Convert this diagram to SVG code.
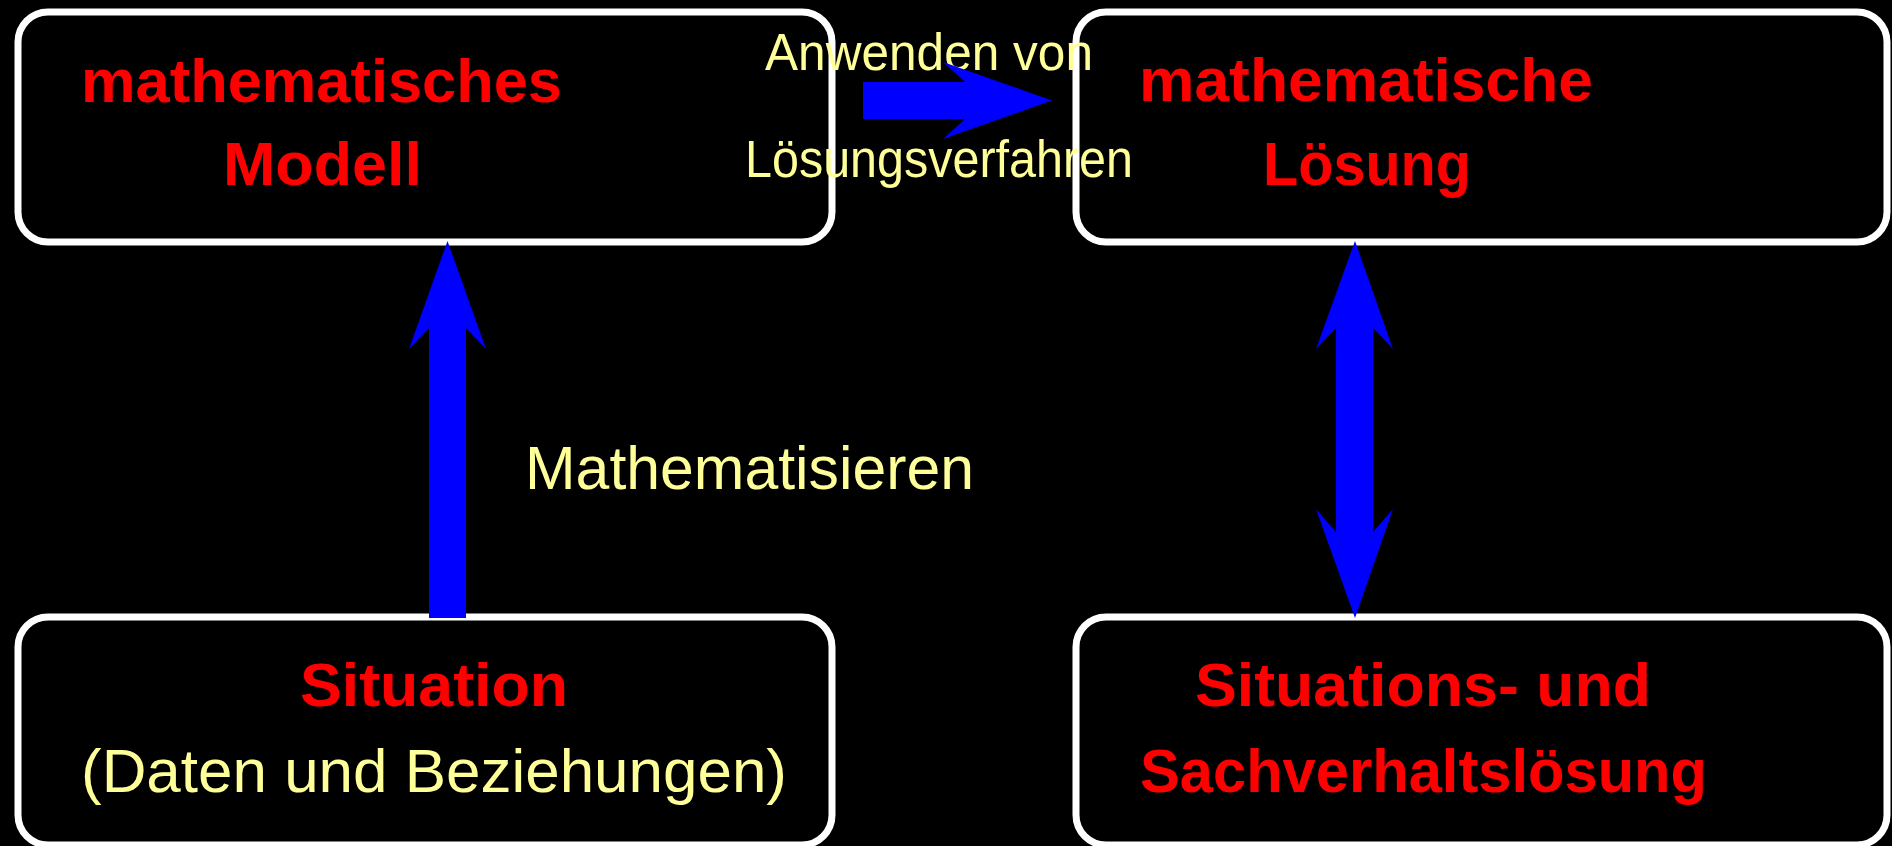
<svg xmlns="http://www.w3.org/2000/svg" width="1892" height="846" viewBox="0 0 1892 846">
<style>
.box{fill:#000;stroke:#fff;stroke-width:7}
.t{font-family:"Liberation Sans",Arial,sans-serif;font-weight:bold;font-size:61px;fill:#ff0000}
.y{font-family:"Liberation Sans",Arial,sans-serif;font-size:62px;fill:#ffff99}
.arr{fill:#0000ff;stroke:none}
</style>
<rect x="0" y="0" width="1892" height="846" fill="#000"/>
<g id="node-modell">
<rect class="box" x="18" y="12" width="814" height="230" rx="30"/>
<text class="t" x="81" y="102" textLength="481" lengthAdjust="spacingAndGlyphs">mathematisches</text>
<text class="t" x="223" y="185" textLength="199" lengthAdjust="spacingAndGlyphs">Modell</text>
</g>
<g id="node-loesung">
<rect class="box" x="1076" y="12" width="811" height="230" rx="30"/>
<text class="t" x="1139" y="101" textLength="454" lengthAdjust="spacingAndGlyphs">mathematische</text>
<text class="t" x="1263" y="185" textLength="208" lengthAdjust="spacingAndGlyphs">Lösung</text>
</g>
<g id="node-situation">
<rect class="box" x="18" y="617" width="814" height="228" rx="30"/>
<text class="t" x="300" y="706" textLength="268" lengthAdjust="spacingAndGlyphs">Situation</text>
<text class="y" x="81" y="792" textLength="706" lengthAdjust="spacingAndGlyphs">(Daten und Beziehungen)</text>
</g>
<g id="node-sachverhalt">
<rect class="box" x="1076" y="617" width="811" height="228" rx="30"/>
<text class="t" x="1195" y="706" textLength="456" lengthAdjust="spacingAndGlyphs">Situations- und</text>
<text class="t" x="1140" y="792" textLength="567" lengthAdjust="spacingAndGlyphs">Sachverhaltslösung</text>
</g>
<g id="connectors">
<text class="y" x="765" y="70" font-size="52" style="font-size:52px" textLength="328" lengthAdjust="spacingAndGlyphs">Anwenden von</text>
<text class="y" x="745" y="177" style="font-size:51px" textLength="388" lengthAdjust="spacingAndGlyphs">Lösungsverfahren</text>
<text class="y" x="525" y="489" textLength="449" lengthAdjust="spacingAndGlyphs">Mathematisieren</text>
<polygon class="arr" points="447.5,241 486,349 466,328 466,618 429,618 429,328 409,349"/>
<polygon class="arr" points="1355,241 1393,349 1373,328 1373,532 1393,509 1355,618 1316,509 1336,532 1336,328 1316,349"/>
<polygon class="arr" points="1052,100.5 943,139 965,119 863,119 863,82 965,82 943,62"/>
</g>
</svg>
